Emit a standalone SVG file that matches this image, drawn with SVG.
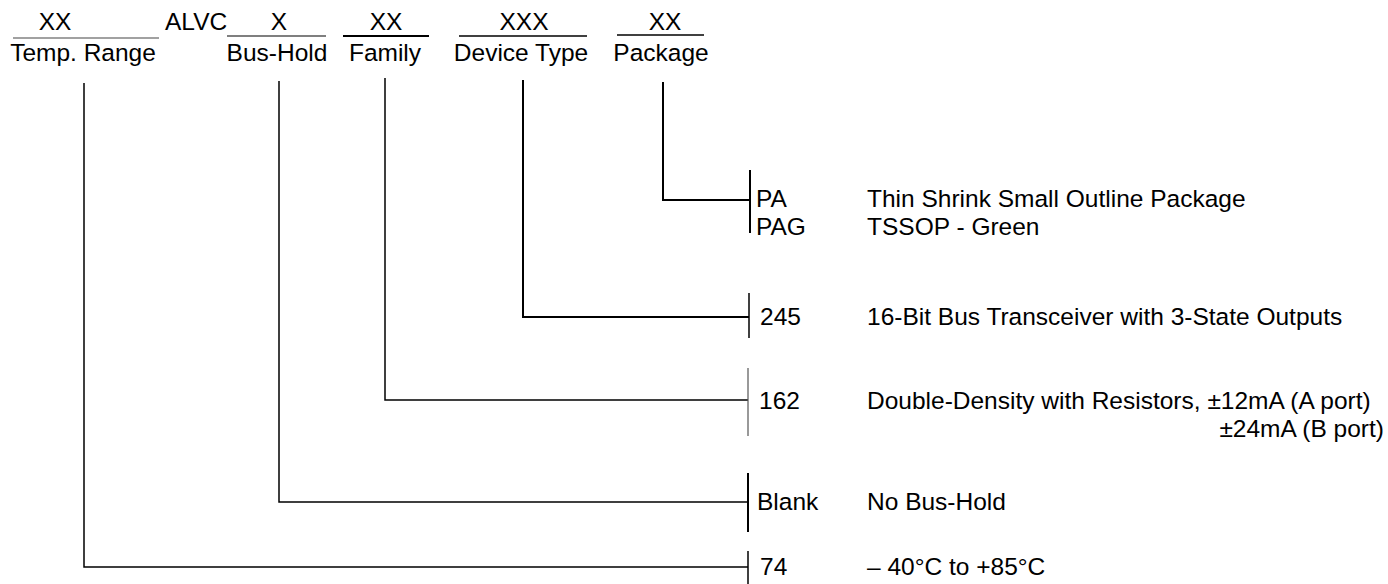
<svg xmlns="http://www.w3.org/2000/svg" width="1388" height="584" viewBox="0 0 1388 584">
<style>
text{font-family:"Liberation Sans",Arial,Helvetica,sans-serif;font-size:24.5px;fill:#000}
.m{text-anchor:middle}
.e{text-anchor:end}
line{stroke:#000;stroke-width:1.5;fill:none}
polyline{stroke:#000;stroke-width:2;fill:none}
</style>
<rect width="1388" height="584" fill="#fff"/>
<g id="header">
<g id="temp-range">
<text x="55" y="30" class="m">XX</text>
<line x1="13" y1="38" x2="159" y2="38" style="stroke:#444;stroke-width:1.2"/>
<text x="83" y="61" class="m">Temp. Range</text>
</g>
<g id="alvc"><text x="165" y="30">ALVC</text></g>
<g id="bus-hold">
<text x="279" y="30" class="m">X</text>
<line x1="227" y1="36" x2="326" y2="36" style="stroke-width:1.2"/>
<text x="277" y="61" class="m">Bus-Hold</text>
</g>
<g id="family">
<text x="386" y="30" class="m">XX</text>
<line x1="343" y1="36" x2="429" y2="36" style="stroke-width:2"/>
<text x="385" y="61" class="m">Family</text>
</g>
<g id="device-type">
<text x="524" y="30" class="m">XXX</text>
<line x1="459" y1="36" x2="587" y2="36"/>
<text x="521" y="61" class="m">Device Type</text>
</g>
<g id="package">
<text x="665" y="30" class="m">XX</text>
<line x1="617" y1="35" x2="704" y2="35"/>
<text x="661" y="61" class="m">Package</text>
</g>
</g>
<g id="connectors">
<polyline points="663,82 663,200 749,200"/>
<polyline points="523,80 523,317 749,317"/>
<polyline points="385,78 385,400 748,400" style="stroke-width:1.5"/>
<polyline points="279,81 279,502 748,502" style="stroke-width:1.5"/>
<polyline points="84,83 84,567 748,567" style="stroke-width:1.5"/>
</g>
<g id="opt-package">
<line x1="750" y1="170" x2="750" y2="233" style="stroke-width:2"/>
<text x="756" y="207">PA</text>
<text x="867" y="207">Thin Shrink Small Outline Package</text>
<text x="756" y="235">PAG</text>
<text x="867" y="235">TSSOP - Green</text>
</g>
<g id="opt-device">
<line x1="749" y1="293" x2="749" y2="338"/>
<text x="760" y="325">245</text>
<text x="867" y="325">16-Bit Bus Transceiver with 3-State Outputs</text>
</g>
<g id="opt-family">
<line x1="748" y1="368" x2="748" y2="436" style="stroke:#555;stroke-width:1.2"/>
<text x="759" y="409">162</text>
<text x="867" y="409">Double-Density with Resistors, ±12mA (A port)</text>
<text x="1384" y="437" class="e">±24mA (B port)</text>
</g>
<g id="opt-bushold">
<line x1="748" y1="473" x2="748" y2="532" style="stroke-width:2"/>
<text x="757" y="510">Blank</text>
<text x="867" y="510">No Bus-Hold</text>
</g>
<g id="opt-temp">
<line x1="748" y1="551" x2="748" y2="584"/>
<text x="760" y="575">74</text>
<text x="867" y="575">– 40°C to +85°C</text>
</g>
</svg>
